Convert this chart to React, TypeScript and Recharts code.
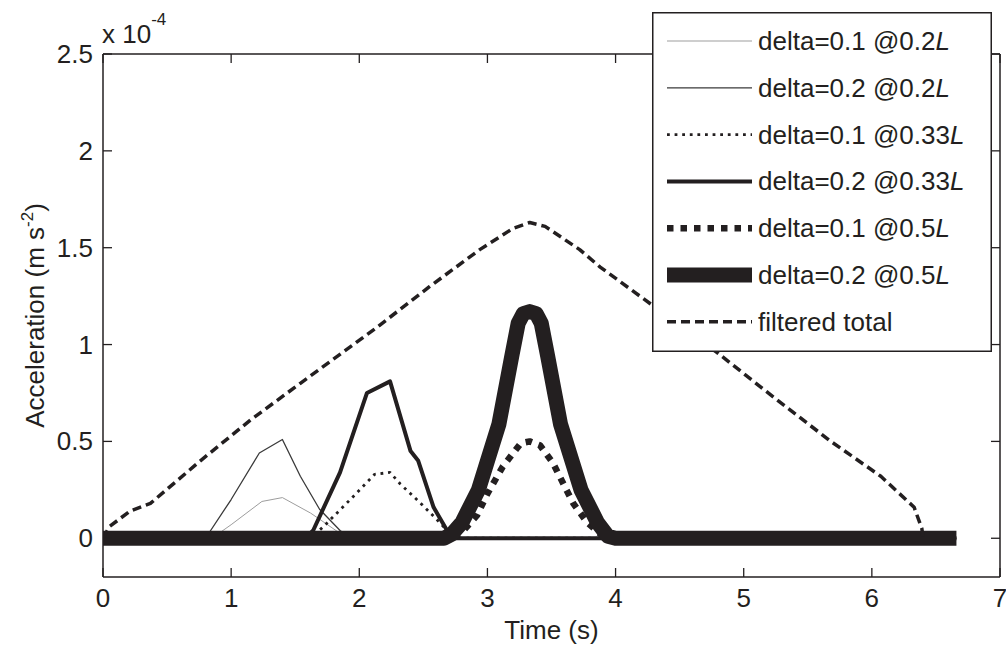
import { LineChart, Line, XAxis, YAxis, Legend } from 'recharts'

const INK = '#231f20'
const FONT = '"Liberation Sans", Arial, Helvetica, sans-serif'
const TICK = 9

const xTicks = [0, 1, 2, 3, 4, 5, 6, 7]
const yTicks = [0, 0.5, 1, 1.5, 2, 2.5]

// [time (s), acceleration (x 1e-4 m s^-2)]
const d01At02: [number, number][] = [
  [0, 0], [0.85, 0], [1.0, 0.07], [1.24, 0.19], [1.4, 0.21], [1.62, 0.13], [1.84, 0.03], [1.9, 0], [6.66, 0],
]
const d02At02: [number, number][] = [
  [0, 0], [0.8, 0], [1.0, 0.2], [1.22, 0.44], [1.4, 0.51], [1.54, 0.32], [1.69, 0.15], [1.85, 0.04], [1.93, 0], [6.66, 0],
]
const d01At033: [number, number][] = [
  [0, 0], [1.62, 0], [1.72, 0.06], [1.93, 0.2], [2.12, 0.33], [2.24, 0.34], [2.32, 0.28], [2.48, 0.18], [2.63, 0.08], [2.74, 0], [6.66, 0],
]
const d02At033: [number, number][] = [
  [0, 0], [1.58, 0], [1.64, 0.04], [1.85, 0.34], [2.06, 0.75], [2.24, 0.81], [2.4, 0.45], [2.46, 0.4], [2.58, 0.16], [2.72, 0], [6.66, 0],
]
const d01At05: [number, number][] = [
  [0, 0], [2.7, 0], [2.8, 0.03], [2.92, 0.12], [3.0, 0.23], [3.12, 0.37], [3.26, 0.49], [3.33, 0.5], [3.41, 0.48], [3.51, 0.39], [3.67, 0.18], [3.78, 0.08], [3.92, 0], [6.66, 0],
]
const d02At05: [number, number][] = [
  [0, 0], [2.66, 0], [2.72, 0.02], [2.8, 0.08], [2.93, 0.25], [3.09, 0.59], [3.19, 0.94], [3.24, 1.11], [3.28, 1.16], [3.33, 1.17], [3.38, 1.16], [3.42, 1.11], [3.47, 0.94], [3.57, 0.59], [3.73, 0.25], [3.86, 0.08], [3.94, 0.01], [4.0, 0], [6.66, 0],
]
const filteredTotal: [number, number][] = [
  [0, 0], [0.05, 0.06], [0.21, 0.14], [0.37, 0.18], [0.76, 0.4], [1.15, 0.61], [1.54, 0.8], [2.14, 1.09], [2.55, 1.3], [2.94, 1.49], [3.2, 1.6], [3.33, 1.63], [3.45, 1.61], [3.72, 1.49], [3.88, 1.4], [4.19, 1.25], [4.79, 0.96], [5.23, 0.73], [5.68, 0.5], [6.07, 0.32], [6.33, 0.16], [6.39, 0.05], [6.4, 0],
]

interface Series {
  id: string
  delta?: string
  at?: string
  label?: string
  points: [number, number][]
  stroke: string
  width: number
  dash?: string
}

const series: Series[] = [
  { id: 'd01At02', delta: '0.1', at: '0.2', points: d01At02, stroke: '#9d9d9d', width: 1 },
  { id: 'd02At02', delta: '0.2', at: '0.2', points: d02At02, stroke: '#3a3a3a', width: 1.3 },
  { id: 'd01At033', delta: '0.1', at: '0.33', points: d01At033, stroke: INK, width: 2.8, dash: '2.8 4.8' },
  { id: 'd02At033', delta: '0.2', at: '0.33', points: d02At033, stroke: INK, width: 4 },
  { id: 'd01At05', delta: '0.1', at: '0.5', points: d01At05, stroke: INK, width: 6.5, dash: '6.5 7' },
  { id: 'd02At05', delta: '0.2', at: '0.5', points: d02At05, stroke: INK, width: 15 },
  { id: 'filtered', label: 'filtered total', points: filteredTotal, stroke: INK, width: 3.5, dash: '9 5' },
]

const toRows = (pts: [number, number][]) => pts.map(([t, v]) => ({ t, v }))

const textProps = { fontFamily: FONT, fontSize: 26, fill: INK }

function BottomTick({ x, y, payload }: any) {
  return (
    <g>
      <line x1={x} x2={x} y1={y} y2={y - TICK} stroke={INK} strokeWidth={1.3} />
      <text x={x} y={y + 30} textAnchor="middle" {...textProps}>{payload.value}</text>
    </g>
  )
}

function TopTick({ x, y }: any) {
  return <line x1={x} x2={x} y1={y} y2={y + TICK} stroke={INK} strokeWidth={1.3} />
}

function LeftTick({ x, y, payload }: any) {
  return (
    <g>
      <line x1={x} x2={x + TICK} y1={y} y2={y} stroke={INK} strokeWidth={1.3} />
      <text x={x - 10} y={y + 9} textAnchor="end" {...textProps}>{String(payload.value)}</text>
    </g>
  )
}

function RightTick({ x, y }: any) {
  return <line x1={x} x2={x - TICK} y1={y} y2={y} stroke={INK} strokeWidth={1.3} />
}

function TimeTitle({ viewBox }: any) {
  const vb = viewBox ?? { x: 103, y: 577, width: 897 }
  return (
    <text x={vb.x + vb.width / 2} y={577 + 62} textAnchor="middle" {...textProps}>
      Time (s)
    </text>
  )
}

function AccelTitle({ viewBox }: any) {
  const vb = viewBox ?? { x: 102, y: 54, height: 523 }
  const cx = 44
  const cy = vb.y + vb.height / 2
  return (
    <text x={cx} y={cy} transform={`rotate(-90 ${cx} ${cy})`} textAnchor="middle" {...textProps}>
      Acceleration (m s
      <tspan dy={-11} fontSize={17}>-2</tspan>
      <tspan dy={11}>)</tspan>
    </text>
  )
}

function ScaleNote() {
  return (
    <text x={102} y={43} {...textProps}>
      x 10
      <tspan dy={-18} fontSize={17}>-4</tspan>
    </text>
  )
}

function LegendBox() {
  const rowGap = 46.8
  return (
    <svg width={340} height={340} style={{ display: 'block' }}>
      <rect x={0.75} y={0.75} width={338.5} height={338.5} fill="#fff" stroke={INK} strokeWidth={1.5} />
      {series.map((s, i) => {
        const cy = 29 + i * rowGap
        return (
          <g key={s.id}>
            <line x1={15} x2={100} y1={cy} y2={cy} stroke={s.stroke} strokeWidth={s.width} strokeDasharray={s.dash} />
            <text x={106} y={cy + 9} {...textProps}>
              {s.label ?? (
                <>
                  {`delta=${s.delta} @${s.at}`}
                  <tspan fontStyle="italic">L</tspan>
                </>
              )}
            </text>
          </g>
        )
      })}
    </svg>
  )
}

export default function App() {
  return (
    <div style={{ position: 'absolute', left: 0, top: 0, width: 1006, height: 650, background: '#fff' }}>
      <LineChart width={1006} height={650} margin={{ top: 53, right: 5, bottom: 72, left: 102 }}>
        <XAxis
          dataKey="t"
          type="number"
          domain={[0, 7]}
          ticks={xTicks}
          allowDataOverflow
          height={1}
          tickSize={0}
          tickMargin={0}
          tickLine={false}
          tick={<BottomTick />}
          axisLine={{ stroke: INK, strokeWidth: 1.5 }}
          label={<TimeTitle />}
        />
        <XAxis
          xAxisId="top"
          orientation="top"
          dataKey="t"
          type="number"
          domain={[0, 7]}
          ticks={xTicks}
          allowDataOverflow
          height={1}
          tickSize={0}
          tickMargin={0}
          tickLine={false}
          tick={<TopTick />}
          axisLine={{ stroke: INK, strokeWidth: 1.5 }}
          label={<ScaleNote />}
        />
        <YAxis
          type="number"
          domain={[-0.2, 2.5]}
          ticks={yTicks}
          allowDataOverflow
          width={1}
          tickSize={0}
          tickMargin={0}
          tickLine={false}
          tick={<LeftTick />}
          axisLine={{ stroke: INK, strokeWidth: 1.5 }}
          label={<AccelTitle />}
        />
        <YAxis
          yAxisId="right"
          orientation="right"
          type="number"
          domain={[-0.2, 2.5]}
          ticks={yTicks}
          allowDataOverflow
          width={1}
          tickSize={0}
          tickMargin={0}
          tickLine={false}
          tick={<RightTick />}
          axisLine={{ stroke: INK, strokeWidth: 1.5 }}
        />
        {series.map((s) => (
          <Line
            key={s.id}
            data={toRows(s.points)}
            dataKey="v"
            name={s.label ?? `delta=${s.delta} @${s.at}L`}
            type="linear"
            stroke={s.stroke}
            strokeWidth={s.width}
            strokeDasharray={s.dash}
            strokeLinejoin="round"
            dot={false}
            activeDot={false}
            isAnimationActive={false}
          />
        ))}
        <Legend
          layout="vertical"
          align="center"
          verticalAlign="middle"
          content={<LegendBox />}
          wrapperStyle={{ position: 'absolute', left: 652, top: 12, width: 340, height: 340 }}
        />
      </LineChart>
    </div>
  )
}
